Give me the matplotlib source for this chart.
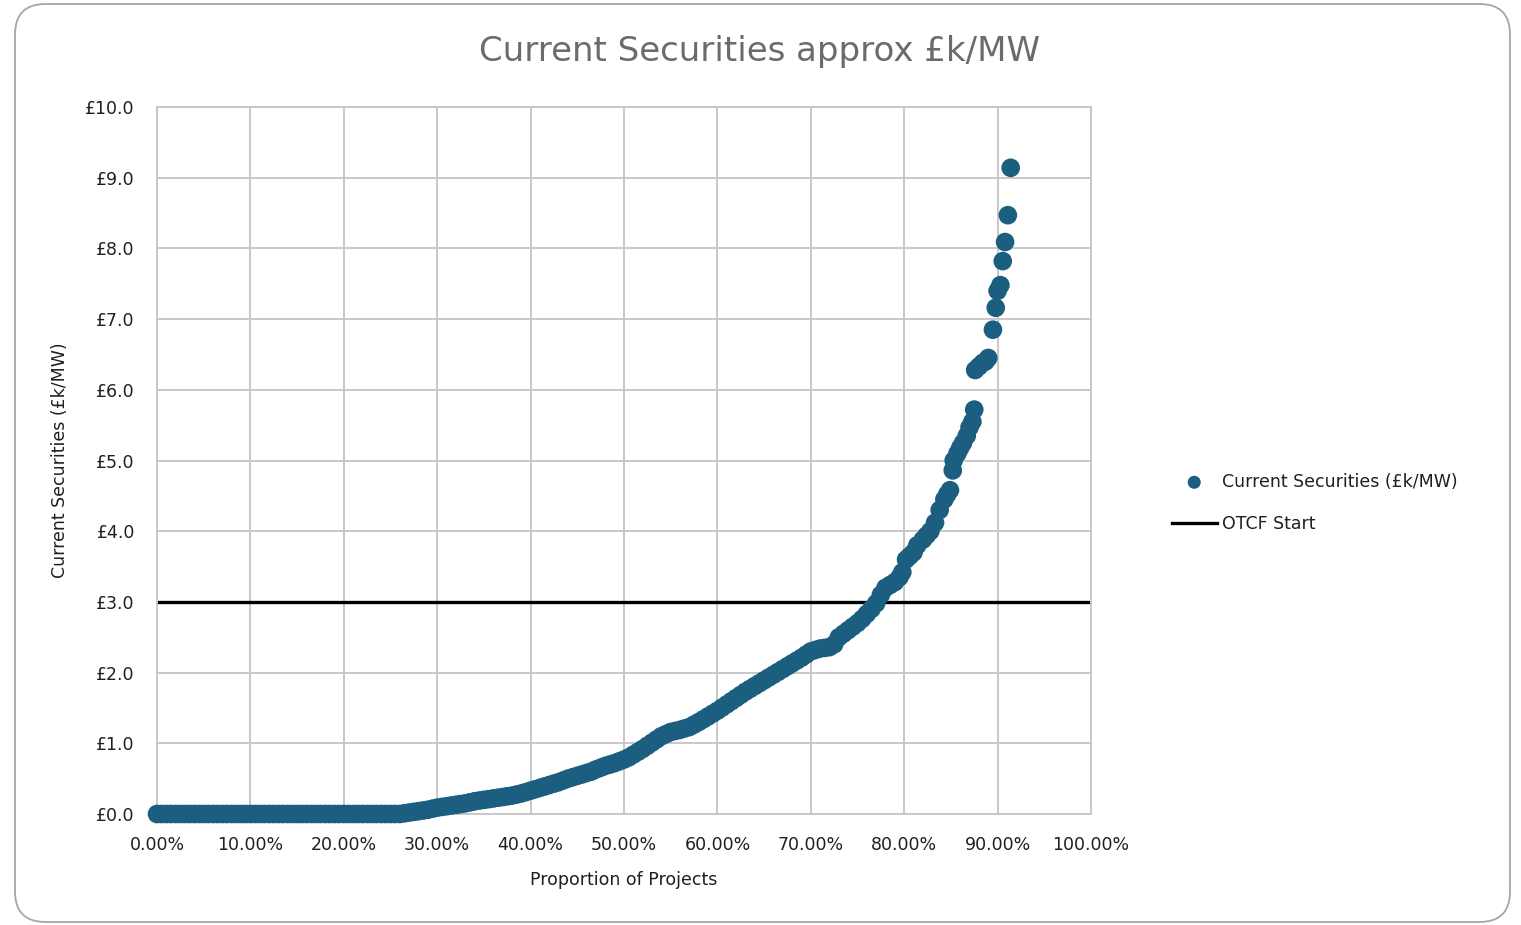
import matplotlib
matplotlib.use("Agg")
import matplotlib.pyplot as plt
from matplotlib.patches import FancyBboxPatch
from matplotlib.ticker import FuncFormatter

# ---- data ----
proportion_pct = [
    0, 0.5, 1, 1.5, 2, 2.5, 3, 3.5, 4, 4.5, 5, 5.5, 6, 6.5, 7, 7.5, 8, 8.5,
    9, 9.5, 10, 10.5, 11, 11.5, 12, 12.5, 13, 13.5, 14, 14.5, 15, 15.5, 16,
    16.5, 17, 17.5, 18, 18.5, 19, 19.5, 20, 20.5, 21, 21.5, 22, 22.5, 23,
    23.5, 24, 24.5, 25, 25.5,
    26, 26.5, 27, 27.5, 28, 28.5, 29, 29.5, 30, 30.5, 31, 31.5, 32, 32.5,
    33, 33.5, 34, 34.5, 35, 35.5, 36, 36.5, 37, 37.5, 38, 38.5, 39, 39.5,
    40, 40.5, 41, 41.5, 42, 42.5, 43, 43.5, 44, 44.5, 45, 45.5, 46, 46.5,
    47, 47.5, 48, 48.5, 49, 49.5, 50, 50.5, 51, 51.5, 52, 52.5, 53, 53.5,
    54, 54.5, 55, 55.5, 56, 56.5, 57, 57.5, 58, 58.5, 59, 59.5, 60, 60.5,
    61, 61.5, 62, 62.5, 63, 63.5, 64, 64.5, 65, 65.5, 66, 66.5, 67, 67.5,
    68, 68.5, 69, 69.5, 70, 70.5, 71, 71.5, 72, 72.5, 73, 73.5, 74, 74.5,
    75, 75.5, 76, 76.5, 77, 77.5, 78, 78.5, 79, 79.5, 79.8, 80.2, 80.6, 81,
    81.4, 82, 82.4, 82.8, 83.3, 83.8, 84.3, 84.6, 84.9, 85.2, 85.3, 85.7,
    86.0, 86.3, 86.7, 87.0, 87.3, 87.5, 87.6, 88.0, 88.4, 88.7, 89.0, 89.5,
    89.8, 90.0, 90.3, 90.55, 90.8, 91.1, 91.4,
]
securities_k_per_mw = [
    0.00, 0.00, 0.00, 0.00, 0.00, 0.00, 0.00, 0.00, 0.00, 0.00, 0.00, 0.00,
    0.00, 0.00, 0.00, 0.00, 0.00, 0.00, 0.00, 0.00, 0.00, 0.00, 0.00, 0.00,
    0.00, 0.00, 0.00, 0.00, 0.00, 0.00, 0.00, 0.00, 0.00, 0.00, 0.00, 0.00,
    0.00, 0.00, 0.00, 0.00, 0.00, 0.00, 0.00, 0.00, 0.00, 0.00, 0.00, 0.00,
    0.00, 0.00, 0.00, 0.00,
    0.00, 0.01, 0.02, 0.03, 0.04, 0.05, 0.06, 0.075, 0.09, 0.10, 0.11, 0.12,
    0.13, 0.14, 0.15, 0.165, 0.18, 0.19, 0.20, 0.21, 0.22, 0.23, 0.24, 0.25,
    0.26, 0.275, 0.29, 0.31, 0.33, 0.35, 0.37, 0.39, 0.41, 0.43, 0.45, 0.475,
    0.50, 0.52, 0.54, 0.56, 0.58, 0.60, 0.63, 0.655, 0.68, 0.70, 0.72, 0.745,
    0.77, 0.80, 0.84, 0.88, 0.92, 0.965, 1.01, 1.055, 1.10, 1.13, 1.16, 1.175,
    1.19, 1.21, 1.23, 1.265, 1.30, 1.34, 1.38, 1.42, 1.46, 1.505, 1.55, 1.595,
    1.64, 1.685, 1.73, 1.77, 1.81, 1.85, 1.89, 1.93, 1.97, 2.01, 2.05, 2.09,
    2.13, 2.17, 2.21, 2.255, 2.30, 2.32, 2.34, 2.35, 2.36, 2.40, 2.50, 2.55,
    2.60, 2.65, 2.70, 2.76, 2.83, 2.90, 2.98, 3.10, 3.20, 3.24, 3.28, 3.35,
    3.42, 3.60, 3.65, 3.70, 3.80, 3.88, 3.94, 4.00, 4.12, 4.30, 4.45, 4.52,
    4.58, 4.86, 5.00, 5.10, 5.18, 5.25, 5.35, 5.47, 5.55, 5.72, 6.28, 6.33,
    6.38, 6.40, 6.45, 6.85, 7.16, 7.40, 7.48, 7.82, 8.09, 8.47, 9.14,
]
otcf_start = 3.0
x_ticks_pct = [0, 10, 20, 30, 40, 50, 60, 70, 80, 90, 100]
y_ticks = [0, 1, 2, 3, 4, 5, 6, 7, 8, 9, 10]

title_text = "Current Securities approx £k/MW"
series_label = "Current Securities (£k/MW)"
line_label = "OTCF Start"
x_label = "Proportion of Projects"
y_label = "Current Securities (£k/MW)"

# ---- figure ----
plt.rcParams["font.family"] = ["DejaVu Sans"]

fig = plt.figure(figsize=(15.21, 9.25), dpi=100)
fig.patch.set_facecolor("white")

border = FancyBboxPatch((15 / 1521, 3 / 925), 1495 / 1521, 918 / 925,
                        boxstyle="round,pad=0,rounding_size=0.02",
                        transform=fig.transFigure, facecolor="none",
                        edgecolor="#a6a6a6", linewidth=1.3, zorder=0,
                        mutation_aspect=1521 / 925)
fig.patches.append(border)

ax = fig.add_axes([157 / 1521, 1 - 814 / 925, (1091 - 157) / 1521, (814 - 107) / 925])

grid_color = "#c8c8c8"
for s in ax.spines.values():
    s.set_color(grid_color)
    s.set_linewidth(1.4)

ax.set_xlim(0, 100)
ax.set_ylim(0, 10)
ax.set_xticks(x_ticks_pct)
ax.set_yticks(y_ticks)
ax.xaxis.set_major_formatter(FuncFormatter(lambda v, p: f"{v:.2f}%"))
ax.yaxis.set_major_formatter(FuncFormatter(lambda v, p: f"£{v:.1f}"))
ax.grid(True, color=grid_color, linewidth=1.4)
ax.set_axisbelow(True)
ax.tick_params(axis="both", length=0, labelsize=12.5, colors="#1f1f1f")
ax.tick_params(axis="x", pad=16)
ax.tick_params(axis="y", pad=16)

ax.scatter(proportion_pct, securities_k_per_mw, s=180, color="#1B5E80",
           edgecolors="none", zorder=3, label=series_label, clip_on=False)
ax.axhline(otcf_start, color="black", linewidth=2.4, zorder=2, label=line_label)

ax.set_xlabel(x_label, fontsize=12.5, color="#1f1f1f", labelpad=12)
ax.set_ylabel(y_label, fontsize=12.5, color="#1f1f1f", labelpad=12)

fig.text(760 / 1521, 1 - 52 / 925, title_text, ha="center", va="center",
         fontsize=24.5, color="#6b6b6b")

leg = fig.legend(loc="center left", bbox_to_anchor=(1156 / 1521, 1 - 503 / 925),
                 frameon=False, fontsize=12.5, handlelength=2.6,
                 handletextpad=0.3, labelspacing=1.4, scatterpoints=1,
                 markerscale=0.7)
for t in leg.get_texts():
    t.set_color("#1f1f1f")

fig.savefig("out.png", dpi=100)
